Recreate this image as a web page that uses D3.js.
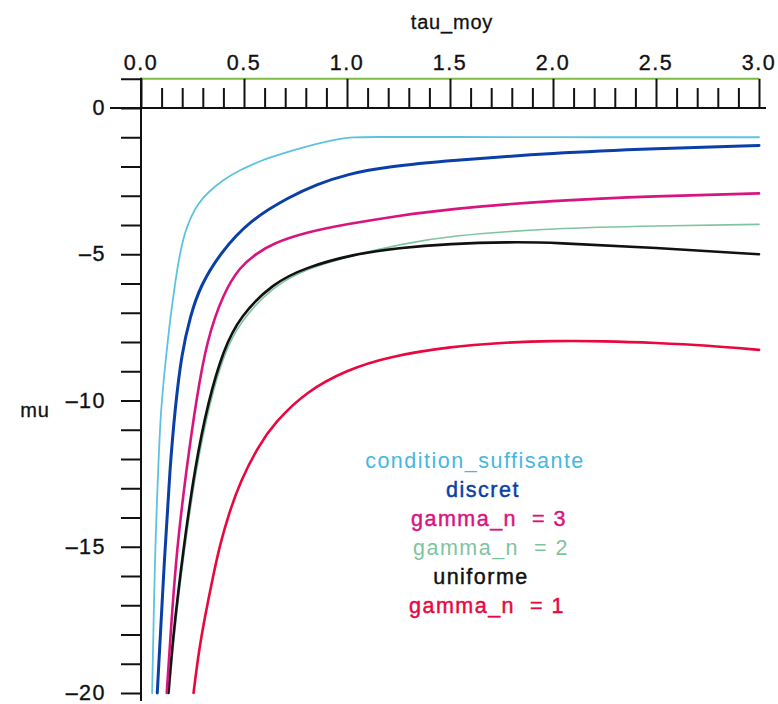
<!DOCTYPE html>
<html>
<head>
<meta charset="utf-8">
<script src="https://cdn.jsdelivr.net/npm/d3@7/dist/d3.min.js"></script>
<style>
  html, body { margin: 0; padding: 0; background: #ffffff; }
  svg { display: block; }
  text { font-family: "Liberation Sans", Arial, Helvetica, sans-serif; }
</style>
</head>
<body>
<svg id="chart" width="778" height="704"></svg>
<script>
// Axis ticks
const xMajorTicks = [0.0, 0.5, 1.0, 1.5, 2.0, 2.5, 3.0];
const xMinorTicks = [0.1, 0.2, 0.3, 0.4, 0.6, 0.7, 0.8, 0.9, 1.1, 1.2, 1.3, 1.4,
                     1.6, 1.7, 1.8, 1.9, 2.1, 2.2, 2.3, 2.4, 2.6, 2.7, 2.8, 2.9];
const yTicks = d3.range(-20, 2, 1);
const yLabelTicks = [0, -5, -10, -15, -20];

// Reference level mu = 1
const refTau = [0.0, 3.0];
const refMu = [1, 1];

// condition_suffisante
const csTau = [0.054, 0.068, 0.084, 0.096, 0.12, 0.141, 0.165, 0.189, 0.215, 0.245, 0.28, 0.319, 0.4, 0.48, 0.58, 0.69, 0.8, 0.9, 0.97, 1.03, 1.1, 1.5, 2.0, 2.5, 3.0];
const csMu  = [-20, -15.1, -12.26, -10.3, -8.6, -7.25, -6.0, -4.96, -4.2, -3.68, -3.25, -2.92, -2.45, -2.12, -1.8, -1.55, -1.32, -1.15, -1.05, -1.0, -0.99, -0.99, -1.0, -1.0, -1.0];

// discret
const dTau = [0.079, 0.116, 0.141, 0.165, 0.197, 0.24, 0.286, 0.383, 0.529, 0.723, 0.85, 1.0, 1.2, 1.5, 2.0, 2.5, 3.0];
const dMu  = [-20, -15.1, -12.26, -10.3, -8.39, -7.1, -6.11, -4.97, -3.83, -3.03, -2.62, -2.26, -2.0, -1.8, -1.54, -1.39, -1.28];

// gamma_n = 3
const g3Tau = [0.125, 0.144, 0.173, 0.222, 0.27, 0.32, 0.40, 0.48, 0.56, 0.64, 0.8, 1.0, 1.25, 1.5, 2.0, 2.5, 3.0];
const g3Mu  = [-20, -17.95, -15.1, -12.26, -9.9, -7.93, -6.33, -5.43, -4.98, -4.63, -4.25, -3.97, -3.68, -3.45, -3.16, -3.01, -2.92];

// gamma_n = 2
const g2Tau = [0.137, 0.16, 0.21, 0.268, 0.333, 0.40, 0.48, 0.64, 0.8, 1.03, 1.26, 1.5, 2.0, 2.5, 3.0];
const g2Mu  = [-20, -18.0, -15.1, -12.3, -10.1, -8.45, -7.3, -6.1, -5.5, -5.03, -4.66, -4.36, -4.11, -4.03, -3.98];

// uniforme
const uTau = [0.133, 0.157, 0.205, 0.262, 0.327, 0.40, 0.48, 0.64, 0.8, 1.03, 1.25, 1.5, 1.79, 2.0, 2.5, 3.0];
const uMu  = [-20, -17.95, -15.1, -12.26, -10.0, -8.27, -7.13, -5.99, -5.45, -5.0, -4.78, -4.64, -4.58, -4.6, -4.78, -5.0];

// gamma_n = 1
const g1Tau = [0.255, 0.28, 0.31, 0.35, 0.384, 0.43, 0.48, 0.57, 0.65, 0.8, 1.0, 1.2, 1.5, 1.75, 2.0, 2.25, 2.5, 2.75, 3.0];
const g1Mu  = [-20, -18.6, -17.4, -16.0, -14.9, -13.8, -12.8, -11.55, -10.75, -9.7, -8.95, -8.5, -8.16, -8.02, -7.96, -7.97, -8.03, -8.12, -8.27];

const seriesNames = ["condition_suffisante", "discret", "gamma_n  = 3", "gamma_n  = 2", "uniforme", "gamma_n  = 1"];

const series = [
  { tau: g2Tau, mu: g2Mu, color: "#7fc4a0", width: 1.6 },
  { tau: g1Tau, mu: g1Mu, color: "#e8083f", width: 2.6 },
  { tau: uTau,  mu: uMu,  color: "#111111", width: 2.6 },
  { tau: g3Tau, mu: g3Mu, color: "#d8157e", width: 2.6 },
  { tau: dTau,  mu: dMu,  color: "#0a3fa8", width: 3.0 },
  { tau: csTau, mu: csMu, color: "#5cc3df", width: 1.8 }
];
const legendColors = ["#45b8e0", "#0a3fa8", "#d8157e", "#7fc4a0", "#111111", "#e8083f"];
const legendCenters = [475, 483, 489, 491, 481, 487];

const svg = d3.select("#chart");

const x = d3.scaleLinear().domain([0, 3]).range([141, 759]);
const y = d3.scaleLinear().domain([0, -20]).range([108, 693]);

const labelFont = "21.5px";
const spacing = "1.5px";

// Reference level line
svg.append("path")
  .datum(refTau.map((t, i) => [t, refMu[i]]))
  .attr("fill", "none")
  .attr("stroke", "#7dbb45")
  .attr("stroke-width", 1.8)
  .attr("d", d3.line().x(d => x(d[0])).y(d => y(d[1])));

// Curves
const line = d3.line().x(d => x(d[0])).y(d => y(d[1])).curve(d3.curveBasis);
series.forEach(s => {
  svg.append("path")
    .datum(s.tau.map((t, i) => [t, s.mu[i]]))
    .attr("fill", "none")
    .attr("stroke", s.color)
    .attr("stroke-width", s.width)
    .attr("stroke-linejoin", "round")
    .attr("stroke-linecap", "round")
    .attr("d", line);
});

// Top axis (drawn along mu = 0)
const xAxisG = svg.append("g").attr("transform", `translate(0,${y(0)})`);
xAxisG.append("g")
  .call(d3.axisTop(x).tickValues(xMinorTicks).tickSize(20).tickSizeOuter(0).tickFormat(""))
  .call(g => g.select(".domain").remove());
xAxisG.append("g")
  .call(d3.axisTop(x).tickValues(xMajorTicks).tickSize(y(0) - y(1)).tickSizeOuter(0).tickFormat(""))
  .call(g => g.select(".domain").remove());
xAxisG.selectAll("line").attr("stroke", "#111").attr("stroke-width", 2);
xAxisG.append("line")
  .attr("x1", x(0) - 31).attr("x2", x(3) + 7)
  .attr("y1", 0).attr("y2", 0)
  .attr("stroke", "#111").attr("stroke-width", 2);

// Top axis labels
svg.append("g").selectAll("text")
  .data(xMajorTicks)
  .join("text")
  .attr("x", d => x(d))
  .attr("y", 70)
  .attr("text-anchor", "middle")
  .style("font-size", labelFont)
  .style("letter-spacing", spacing)
  .attr("fill", "#111")
  .attr("stroke", "#111")
  .attr("stroke-width", 0.35)
  .text(d => d3.format(".1f")(d));

// Left axis
const yAxisG = svg.append("g").attr("transform", `translate(${x(0)},0)`);
yAxisG.call(d3.axisLeft(y).tickValues(yTicks).tickSize(20).tickSizeOuter(0).tickFormat(""));
yAxisG.select(".domain").attr("d", `M0,${y(1) - 1}V${y(-20) + 8}`);
yAxisG.selectAll("line, path").attr("stroke", "#111").attr("stroke-width", 2);

svg.append("g").selectAll("text")
  .data(yLabelTicks)
  .join("text")
  .attr("x", 106)
  .attr("y", d => y(d))
  .attr("dy", "0.33em")
  .attr("text-anchor", "end")
  .style("font-size", labelFont)
  .style("letter-spacing", spacing)
  .attr("fill", "#111")
  .attr("stroke", "#111")
  .attr("stroke-width", 0.35)
  .text(d => d === 0 ? "0" : "\u2013" + Math.abs(d));

// Axis titles
svg.append("text")
  .attr("x", 452).attr("y", 29)
  .attr("text-anchor", "middle")
  .style("font-size", "20px")
  .style("letter-spacing", "0.8px")
  .attr("fill", "#111")
  .attr("stroke", "#111")
  .attr("stroke-width", 0.3)
  .text("tau_moy");

svg.append("text")
  .attr("x", 35).attr("y", 417)
  .attr("text-anchor", "middle")
  .style("font-size", "20px")
  .style("letter-spacing", "0.8px")
  .attr("fill", "#111")
  .attr("stroke", "#111")
  .attr("stroke-width", 0.3)
  .text("mu");

// Legend
svg.append("g").selectAll("text")
  .data(seriesNames)
  .join("text")
  .attr("x", (d, i) => legendCenters[i])
  .attr("y", (d, i) => 468 + 29 * i)
  .attr("text-anchor", "middle")
  .style("font-size", labelFont)
  .style("letter-spacing", spacing)
  .style("white-space", "pre")
  .attr("fill", (d, i) => legendColors[i])
  .attr("stroke", (d, i) => legendColors[i])
  .attr("stroke-width", (d, i) => (i === 0 || i === 3) ? 0 : 0.45)
  .text(d => d);
</script>
</body>
</html>
